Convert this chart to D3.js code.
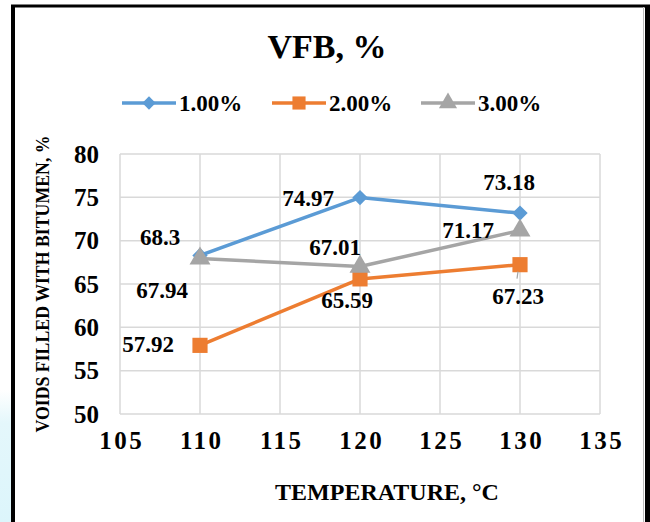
<!DOCTYPE html>
<html>
<head>
<meta charset="utf-8">
<script src="https://cdn.jsdelivr.net/npm/d3@7"></script>
<style>
  html, body { margin: 0; padding: 0; background: #fff; }
  svg { display: block; }
  text { font-family: "Liberation Serif", "Times New Roman", serif; font-weight: bold; fill: #000; }
</style>
</head>
<body>
<svg id="chart" width="650" height="522"></svg>
<script>
// Temperatures (°C) at which VFB was measured
const temperatures = [110, 120, 130];
// Bitumen content series
const seriesNames = ["1.00%", "2.00%", "3.00%"];
const vfb1 = [68.3, 74.97, 73.18];
const vfb2 = [57.92, 65.59, 67.23];
const vfb3 = [67.94, 67.01, 71.17];
const xTicks = [105, 110, 115, 120, 125, 130, 135];
const yTicks = [50, 55, 60, 65, 70, 75, 80];

const colors = ["#5B9BD5", "#ED7D31", "#A5A5A5"];
const symbols = [d3.symbolDiamond2, d3.symbolSquare, d3.symbolTriangle];
const symbolSizes = [150, 230, 190];

// label offsets relative to each point (dx, dy to baseline)
const labelOffsets = [
  [[-40, -10], [-52, 8], [-11, -23]],
  [[-52, 7], [-13, 29], [-2, 39]],
  [[-38, 39], [-25, -12], [-52, 7]]
];

const series = seriesNames.map((name, i) => ({
  name,
  color: colors[i],
  symbol: symbols[i],
  size: symbolSizes[i],
  values: [vfb1, vfb2, vfb3][i].map((v, j) => ({ t: temperatures[j], v, off: labelOffsets[i][j] }))
}));

const svg = d3.select("#chart");

// page background and frame
const defs = svg.append("defs");
const grad = defs.append("linearGradient").attr("id", "edge").attr("x1", 0).attr("y1", 0).attr("x2", 0).attr("y2", 1);
grad.append("stop").attr("offset", "0").attr("stop-color", "#ffffff");
grad.append("stop").attr("offset", "0.25").attr("stop-color", "#e4f7fb");
grad.append("stop").attr("offset", "1").attr("stop-color", "#dcf5fb");
svg.append("rect").attr("x", 0).attr("y", 390).attr("width", 11).attr("height", 132).attr("fill", "url(#edge)");

svg.append("line").attr("x1", 13).attr("x2", 13).attr("y1", 5).attr("y2", 522).attr("stroke", "#000").attr("stroke-width", 4);
svg.append("line").attr("x1", 11).attr("x2", 650).attr("y1", 6).attr("y2", 6).attr("stroke", "#000").attr("stroke-width", 3);
svg.append("line").attr("x1", 647.5).attr("x2", 647.5).attr("y1", 5).attr("y2", 522).attr("stroke", "#000").attr("stroke-width", 5);
svg.append("line").attr("x1", 643.5).attr("x2", 643.5).attr("y1", 7).attr("y2", 522).attr("stroke", "#bbb").attr("stroke-width", 1);

const x = d3.scaleLinear().domain([105, 135]).range([120, 600]);
const y = d3.scaleLinear().domain([50, 80]).range([414, 154]);

// grid
const grid = svg.append("g");
grid.selectAll("line.v").data(xTicks).join("line")
  .attr("x1", d => x(d)).attr("x2", d => x(d))
  .attr("y1", y(80)).attr("y2", y(50))
  .attr("stroke", "#d9d9d9").attr("stroke-width", 1.5);
grid.selectAll("line.h").data(yTicks).join("line")
  .attr("x1", x(105)).attr("x2", x(135))
  .attr("y1", d => y(d)).attr("y2", d => y(d))
  .attr("stroke", "#d9d9d9").attr("stroke-width", 1.5);

// axes tick labels
const yAxis = d3.axisLeft(y).tickValues(yTicks).tickSize(0).tickPadding(21);
const gy = svg.append("g").attr("transform", `translate(${x(105)},0)`).call(yAxis);
gy.select(".domain").remove();
gy.selectAll("text").attr("font-size", 25).attr("font-family", "Liberation Serif").attr("font-weight", "bold").attr("fill", "#000");

const xAxis = d3.axisBottom(x).tickValues(xTicks).tickSize(0).tickPadding(17);
const gx = svg.append("g").attr("transform", `translate(0,${y(50)})`).call(xAxis);
gx.select(".domain").remove();
gx.selectAll("text").attr("font-size", 25).attr("font-family", "Liberation Serif").attr("font-weight", "bold")
  .attr("fill", "#000").attr("letter-spacing", "2.5px").attr("dx", 1.2);

// series lines
const line = d3.line().x(d => x(d.t)).y(d => y(d.v));
series.forEach(s => {
  svg.append("path").datum(s.values)
    .attr("d", line).attr("fill", "none")
    .attr("stroke", s.color).attr("stroke-width", 3.5).attr("stroke-linejoin", "round");
});

// markers
series.forEach(s => {
  svg.append("g").selectAll("path").data(s.values).join("path")
    .attr("transform", d => `translate(${x(d.t)},${y(d.v)})`)
    .attr("d", d3.symbol().type(s.symbol).size(s.size))
    .attr("fill", s.color);
});

// leader line for the 67.23 label
svg.append("line")
  .attr("x1", x(130) - 2).attr("x2", x(130) - 3)
  .attr("y1", y(vfb2[2]) + 7).attr("y2", y(vfb2[2]) + 14)
  .attr("stroke", "#A5A5A5").attr("stroke-width", 1.2);

// data labels
series.forEach(s => {
  svg.append("g").selectAll("text").data(s.values).join("text")
    .attr("x", d => x(d.t) + d.off[0])
    .attr("y", d => y(d.v) + d.off[1])
    .attr("text-anchor", "middle")
    .attr("font-size", 23)
    .text(d => d.v);
});

// title
svg.append("text").attr("x", 327).attr("y", 58).attr("text-anchor", "middle")
  .attr("font-size", 34).text("VFB, %");

// legend
const legendX = [122, 272, 421];
const lg = svg.append("g");
series.forEach((s, i) => {
  const g = lg.append("g").attr("transform", `translate(${legendX[i]},103)`);
  g.append("line").attr("x1", 0).attr("x2", 54).attr("y1", 0).attr("y2", 0)
    .attr("stroke", s.color).attr("stroke-width", 3.5);
  g.append("path").attr("transform", "translate(27,0)")
    .attr("d", d3.symbol().type(s.symbol).size(s.size * 0.75)).attr("fill", s.color);
  g.append("text").attr("x", 57).attr("y", 8).attr("font-size", 23).text(s.name);
});

// axis titles
svg.append("text").attr("x", 387).attr("y", 500).attr("text-anchor", "middle")
  .attr("font-size", 24).text("TEMPERATURE, °C");
svg.append("text").attr("transform", "translate(49,284) rotate(-90)").attr("text-anchor", "middle")
  .attr("font-size", 17.8).text("VOIDS FILLED WITH BITUMEN, %");
</script>
</body>
</html>
